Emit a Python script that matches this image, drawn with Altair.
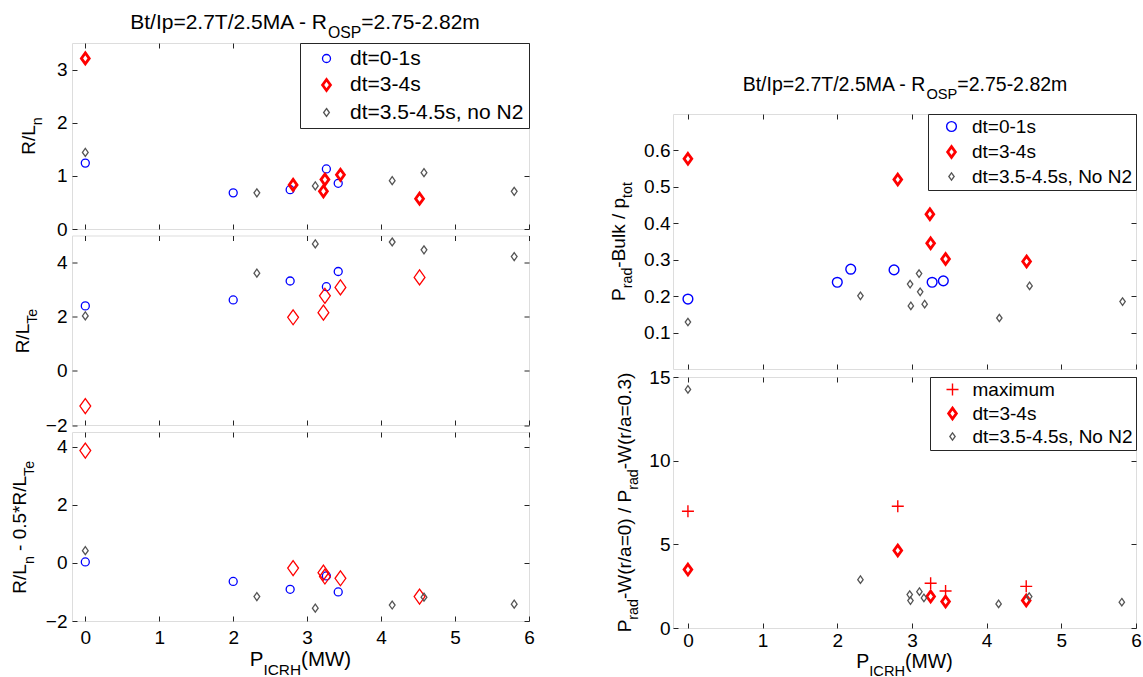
import altair as alt
import pandas as pd

FONT = "Liberation Sans"
FRAME = "#262626"
BLUE = "#0000ff"
RED = "#ff0000"
GRAY = "#555555"

# ---------------- data ----------------
XTICKS = [0, 1, 2, 3, 4, 5, 6]

# left column, series x positions (P_ICRH, MW)
X_BLUE_L = [0.0, 2.0, 2.77, 3.26, 3.42]
X_RED_L = [0.0, 2.81, 3.24, 3.22, 3.45, 4.52]
X_GRAY_L = [0.0, 2.32, 3.11, 4.15, 4.58, 5.80]

# R/L_n
RLN_BLUE = [1.24, 0.68, 0.74, 1.13, 0.86]
RLN_RED = [3.21, 0.83, 0.93, 0.71, 1.02, 0.57]
RLN_GRAY = [1.44, 0.68, 0.81, 0.91, 1.06, 0.71]

# R/L_Te
RLTE_BLUE = [2.40, 2.62, 3.32, 3.11, 3.67]
RLTE_RED = [-1.30, 1.98, 2.77, 2.15, 3.08, 3.45]
RLTE_GRAY = [2.03, 3.61, 4.69, 4.76, 4.47, 4.22]

# R/L_n - 0.5*R/L_Te
COMB_BLUE = [0.03, -0.64, -0.91, -0.45, -1.00]
COMB_RED = [3.86, -0.18, -0.47, -0.34, -0.53, -1.16]
COMB_GRAY = [0.42, -1.16, -1.56, -1.45, -1.18, -1.42]

# right column, top: P_rad-Bulk / P_tot
X_BLUE_R = [0.0, 2.0, 2.18, 2.76, 3.27, 3.42]
PB_BLUE = [0.192, 0.238, 0.274, 0.272, 0.238, 0.242]
X_RED_R = [0.0, 2.81, 3.24, 3.25, 3.45, 4.535]
PB_RED = [0.577, 0.520, 0.425, 0.345, 0.302, 0.295]
X_GRAY_R = [0.0, 2.31, 2.975, 2.985, 3.095, 3.11, 3.17, 4.17, 4.575, 5.82]
PB_GRAY = [0.129, 0.201, 0.233, 0.173, 0.262, 0.212, 0.178, 0.140, 0.228, 0.185]

# right column, bottom: peaking ratio
X_MAX = [0.0, 2.81, 3.25, 3.45, 4.53]
PK_MAX = [6.98, 7.28, 2.67, 2.21, 2.49]
X_RED_B = [0.0, 2.81, 3.25, 3.45, 4.53]
PK_RED = [3.49, 4.63, 1.88, 1.58, 1.64]
X_GRAY_B = [0.0, 2.31, 2.97, 2.98, 3.10, 3.16, 4.16, 4.57, 5.81]
PK_GRAY = [14.26, 2.89, 2.00, 1.64, 2.17, 1.80, 1.44, 1.88, 1.54]

# labels
S_BLUE = "dt=0-1s"
S_RED = "dt=3-4s"
S_GRAY_L = "dt=3.5-4.5s, no N2"
S_GRAY_R = "dt=3.5-4.5s, No N2"
S_MAX = "maximum"

TITLE = [("Bt/Ip=2.7T/2.5MA - R", 0), ("OSP", 1), ("=2.75-2.82m", 0)]
YT_L1 = [("R/L", 0), ("n", 1)]
YT_L2 = [("R/L", 0), ("Te", 1)]
YT_L3 = [("R/L", 0), ("n", 1), (" - 0.5*R/L", 0), ("Te", 1)]
YT_R1 = [("P", 0), ("rad", 1), ("-Bulk / p", 0), ("tot", 1)]
YT_R2 = [("P", 0), ("rad", 1), ("-W(r/a=0) / P", 0), ("rad", 1), ("-W(r/a=0.3)", 0)]
XT = [("P", 0), ("ICRH", 1), ("(MW)", 0)]

DIAMOND = "M0,-1L0.72,0L0,1L-0.72,0Z"
PLUS = "M-1,0L1,0M0,-1L0,1"

# ---------------- helpers ----------------
AW = {" ": 278, "(": 333, ")": 333, "*": 389, "+": 584, ",": 278, "-": 333, ".": 278,
      "/": 278, "=": 584, ":": 278}
for d in "0123456789":
    AW[d] = 556
AW.update({"A": 667, "B": 667, "C": 722, "D": 722, "E": 667, "F": 611, "G": 778, "H": 722,
           "I": 278, "J": 500, "K": 667, "L": 556, "M": 833, "N": 722, "O": 778, "P": 667,
           "Q": 778, "R": 722, "S": 667, "T": 611, "U": 722, "V": 667, "W": 944, "X": 667,
           "Y": 667, "Z": 611, "a": 556, "b": 556, "c": 500, "d": 556, "e": 556, "f": 278,
           "g": 556, "h": 556, "i": 222, "j": 222, "k": 500, "l": 222, "m": 833, "n": 556,
           "o": 556, "p": 556, "q": 556, "r": 333, "s": 500, "t": 278, "u": 556, "v": 500,
           "w": 722, "x": 500, "y": 500, "z": 500})

NONPOS = dict(color="independent", shape="independent", size="independent",
              strokeWidth="independent")


def tw(s, fs):
    return sum(AW.get(c, 556) for c in s) * fs / 1000.0


def rich(pieces, fs, ax, ay, vertical=False, sub=0.75, shift=0.42):
    sfs = fs * sub
    total = sum(tw(t, sfs if s else fs) for t, s in pieces)
    cur = ay + total / 2 if vertical else ax - total / 2
    out = []
    for t, s in pieces:
        f = sfs if s else fs
        sp = tw(" ", f)
        lead = len(t) - len(t.lstrip(" "))
        trail = len(t) - len(t.rstrip(" "))
        core = t.strip(" ")
        cur = cur - lead * sp if vertical else cur + lead * sp
        if vertical:
            px, py = ax + (fs * shift if s else 0), cur
        else:
            px, py = cur, ay + (fs * shift if s else 0)
        out.append(
            alt.Chart(pd.DataFrame({"t": [core]}))
            .mark_text(font=FONT, fontSize=f, align="left", baseline="alphabetic",
                       angle=270 if vertical else 0, color="#000000")
            .encode(x=alt.value(px), y=alt.value(py), text="t:N")
        )
        w = tw(core, f) + trail * sp
        cur = cur - w if vertical else cur + w
    return out


def frame(names, xvals, yvals):
    rows = []
    for n, xv, yv in zip(names, xvals, yvals):
        for a, b in zip(xv, yv):
            rows.append({"x": a, "y": b, "series": n})
    return pd.DataFrame(rows)


def panel(df, names, colors, shapes, sizes, sws, xdom, ydom, yticks, w, h,
          xlabels, tick_fs, ylpad, xlpad, legend, extra, yfmt=""):
    xs = alt.Scale(domain=xdom, nice=False, zero=False)
    ys = alt.Scale(domain=ydom, nice=False, zero=False)
    common = dict(domain=False, grid=False, ticks=True, tickSize=5, offset=-5,
                  tickColor=FRAME, tickWidth=1, labelFontSize=tick_fs, labelFont=FONT,
                  labelColor="#000000", labelOverlap=False, title=None)
    yaxis_kw = dict(orient="left", values=yticks, labelPadding=ylpad, **common)
    if yfmt:
        yaxis_kw["format"] = yfmt
    pts = alt.Chart(df).mark_point(filled=False, opacity=1).encode(
        x=alt.X("x:Q", scale=xs, axis=alt.Axis(orient="bottom", values=XTICKS, labels=xlabels,
                                               labelPadding=xlpad, labelFlush=False, **common)),
        y=alt.Y("y:Q", scale=ys, axis=alt.Axis(**yaxis_kw)),
        color=alt.Color("series:N", scale=alt.Scale(domain=names, range=colors), legend=legend),
        shape=alt.Shape("series:N", scale=alt.Scale(domain=names, range=shapes), legend=legend),
        size=alt.Size("series:N", scale=alt.Scale(type="ordinal", domain=names, range=sizes),
                      legend=legend),
        strokeWidth=alt.StrokeWidth("series:N",
                                    scale=alt.Scale(type="ordinal", domain=names, range=sws),
                                    legend=legend),
    )
    mirror = alt.Chart(df).mark_point(opacity=0).encode(
        x=alt.X("x:Q", scale=xs, axis=alt.Axis(orient="top", values=XTICKS, labels=False, **common)),
        y=alt.Y("y:Q", scale=ys, axis=alt.Axis(orient="right", values=yticks, labels=False, **common)),
    )
    return (alt.layer(pts, mirror, *extra)
            .resolve_axis(x="independent", y="independent")
            .properties(width=w, height=h))


def legend_cfg(fs, pad, row_pad, lab_off, sym_off):
    return alt.Legend(title=None, orient="top-right", offset=0, padding=pad, rowPadding=row_pad,
                      labelOffset=lab_off, symbolOffset=sym_off, labelFontSize=fs,
                      labelFont=FONT, labelColor="#000000", labelLimit=400,
                      strokeColor=FRAME, fillColor="white", cornerRadius=0)


# ---------------- left column ----------------
WL, WR = 457, 463
XDOM_L = [-0.18, 6]
XDOM_R = [-0.2, 6]
names_l = [S_BLUE, S_RED, S_GRAY_L]
colors3 = [BLUE, RED, GRAY]
shapes3 = ["circle", DIAMOND, DIAMOND]

df1 = frame(names_l, [X_BLUE_L, X_RED_L, X_GRAY_L], [RLN_BLUE, RLN_RED, RLN_GRAY])
df2 = frame(names_l, [X_BLUE_L, X_RED_L, X_GRAY_L], [RLTE_BLUE, RLTE_RED, RLTE_GRAY])
df3 = frame(names_l, [X_BLUE_L, X_RED_L, X_GRAY_L], [COMB_BLUE, COMB_RED, COMB_GRAY])

p1 = panel(df1, names_l, colors3, shapes3, [64, 120, 64], [1.3, 2.8, 1.3], XDOM_L, [0, 3.5],
           [0, 1, 2, 3], WL, 186, False, 19, 5, 8, legend_cfg(21, 5, 4.5, 13, 11),
           rich(TITLE, 21, 233, -14.3) + rich(YT_L1, 19, -37.5, 93, vertical=True))
p2 = panel(df2, names_l, colors3, shapes3, [64, 225, 64], [1.3, 1.3, 1.3], XDOM_L, [-2, 5],
           [-2, 0, 2, 4], WL, 189.5, False, 19, 5, 8, None,
           rich(YT_L2, 19, -42.8, 94.75, vertical=True))
p3 = panel(df3, names_l, colors3, shapes3, [64, 225, 64], [1.3, 1.3, 1.3], XDOM_L, [-2, 4.5],
           [-2, 0, 2, 4], WL, 189, True, 19, 5, 7, None,
           rich(YT_L3, 19, -46, 94.5, vertical=True) + rich(XT, 20.5, 228.5, 234))

left = (alt.vconcat(p1, p2, p3, spacing=6.5, bounds="flush")
        .resolve_scale(**NONPOS).resolve_legend(**NONPOS))

# ---------------- right column ----------------
names_r1 = [S_BLUE, S_RED, S_GRAY_R]
dfr1 = frame(names_r1, [X_BLUE_R, X_RED_R, X_GRAY_R], [PB_BLUE, PB_RED, PB_GRAY])
names_r2 = [S_MAX, S_RED, S_GRAY_R]
dfr2 = frame(names_r2, [X_MAX, X_RED_B, X_GRAY_B], [PK_MAX, PK_RED, PK_GRAY])

spacer = (alt.layer(*rich(TITLE, 19.5, 232, 48.3))
          .properties(width=WR, height=63, view=alt.ViewBackground(stroke="transparent")))

r1 = panel(dfr1, names_r1, colors3, shapes3, [95, 115, 56], [1.4, 2.8, 1.3], XDOM_R, [0, 0.7],
           [0.1, 0.2, 0.3, 0.4, 0.5, 0.6], WR, 255, False, 19, 3, 6,
           legend_cfg(19, 3, 3.5, 11, 11),
           rich(YT_R1, 19, -48.5, 127.5, vertical=True), yfmt=".1f")
r2 = panel(dfr2, names_r2, [RED, RED, GRAY], [PLUS, DIAMOND, DIAMOND], [144, 115, 56],
           [1.4, 2.8, 1.3], XDOM_R, [0, 15], [0, 5, 10, 15], WR, 251, True, 19, 3, 3,
           legend_cfg(19, 3, 2, 10.5, 10),
           rich(YT_R2, 19, -42.5, 125.5, vertical=True) + rich(XT, 19.5, 231.5, 290.5))

right = (alt.vconcat(spacer, r1, r2, spacing=8, bounds="flush")
         .resolve_scale(**NONPOS).resolve_legend(**NONPOS))

chart = (alt.hconcat(left, right, spacing=74)
         .resolve_scale(**NONPOS).resolve_legend(**NONPOS)
         .properties(padding={"left": 10, "top": 11, "right": 0, "bottom": 0},
                     background="white")
         .configure_view(stroke=FRAME, strokeWidth=1)
         .configure(font=FONT))

chart.save("out.html", embed_options={"renderer": "svg", "actions": False})
